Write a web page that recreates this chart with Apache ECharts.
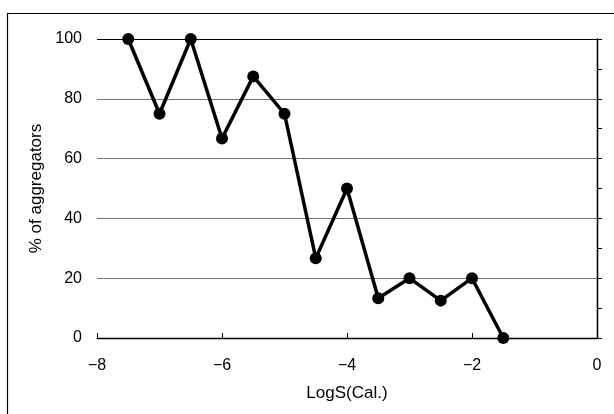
<!DOCTYPE html>
<html>
<head>
<meta charset="utf-8">
<script src="https://cdn.jsdelivr.net/npm/echarts@6/dist/echarts.min.js"></script>
<style>html,body{margin:0;padding:0;background:#fff}#c{width:614px;height:414px}</style>
</head>
<body>
<div id="c"></div>
<script>
var logS = [-7.5, -7, -6.5, -6, -5.5, -5, -4.5, -4, -3.5, -3, -2.5, -2, -1.5];
var pctAggregators = [100, 75, 100, 66.7, 87.5, 75, 26.7, 50, 13.3, 20, 12.5, 20, 0];
var xTicks = [-8, -6, -4, -2, 0];
var yTicks = [0, 20, 40, 60, 80, 100];

var font = 'Liberation Sans';
var chart = echarts.init(document.getElementById('c'));
chart.setOption({
  animation: false,
  backgroundColor: '#fff',
  graphic: [{
    type: 'rect', shape: {x: 7.5, y: 13.5, width: 800, height: 600},
    style: {fill: 'none', stroke: '#000', lineWidth: 1.2}, silent: true, z: 0
  }],
  grid: {left: 97, right: 17, top: 39, bottom: 76},
  xAxis: {
    type: 'value', min: xTicks[0], max: xTicks[xTicks.length - 1], interval: 2,
    name: 'LogS(Cal.)', nameLocation: 'middle', nameGap: 47,
    nameTextStyle: {fontFamily: font, fontSize: 17, color: '#000'},
    axisLine: {lineStyle: {color: '#000', width: 1.3}},
    axisTick: {show: true, inside: true, length: 5, lineStyle: {color: '#000'}},
    axisLabel: {fontFamily: font, fontSize: 16, color: '#000', margin: 20,
      formatter: function (v) { return v < 0 ? '\u2212' + Math.abs(v) : String(v); }},
    splitLine: {show: false}
  },
  yAxis: [{
    type: 'value', min: yTicks[0], max: yTicks[yTicks.length - 1], interval: 20,
    position: 'left',
    name: '% of aggregators', nameLocation: 'middle', nameGap: 52,
    nameTextStyle: {fontFamily: font, fontSize: 17, color: '#000'},
    axisLine: {show: true, lineStyle: {color: '#000', width: 1.3}},
    axisTick: {show: false},
    axisLabel: {fontFamily: font, fontSize: 16, color: '#000', margin: 15},
    splitLine: {show: true, lineStyle: {color: ['#000', '#707070', '#707070', '#707070', '#707070', '#000'], width: 1.2}}
  }, {
    type: 'value', min: 0, max: 100, interval: 10, position: 'right',
    axisLine: {show: true, lineStyle: {color: '#000', width: 1.3}},
    axisTick: {show: true, inside: false, length: 5, lineStyle: {color: '#000'}},
    axisLabel: {show: false},
    splitLine: {show: false}
  }],
  series: [{
    type: 'line',
    data: logS.map(function (x, i) { return [x, pctAggregators[i]]; }),
    symbol: 'circle', symbolSize: 12,
    itemStyle: {color: '#000'},
    lineStyle: {color: '#000', width: 3.5},
    clip: false, z: 5
  }]
});
</script>
</body>
</html>
